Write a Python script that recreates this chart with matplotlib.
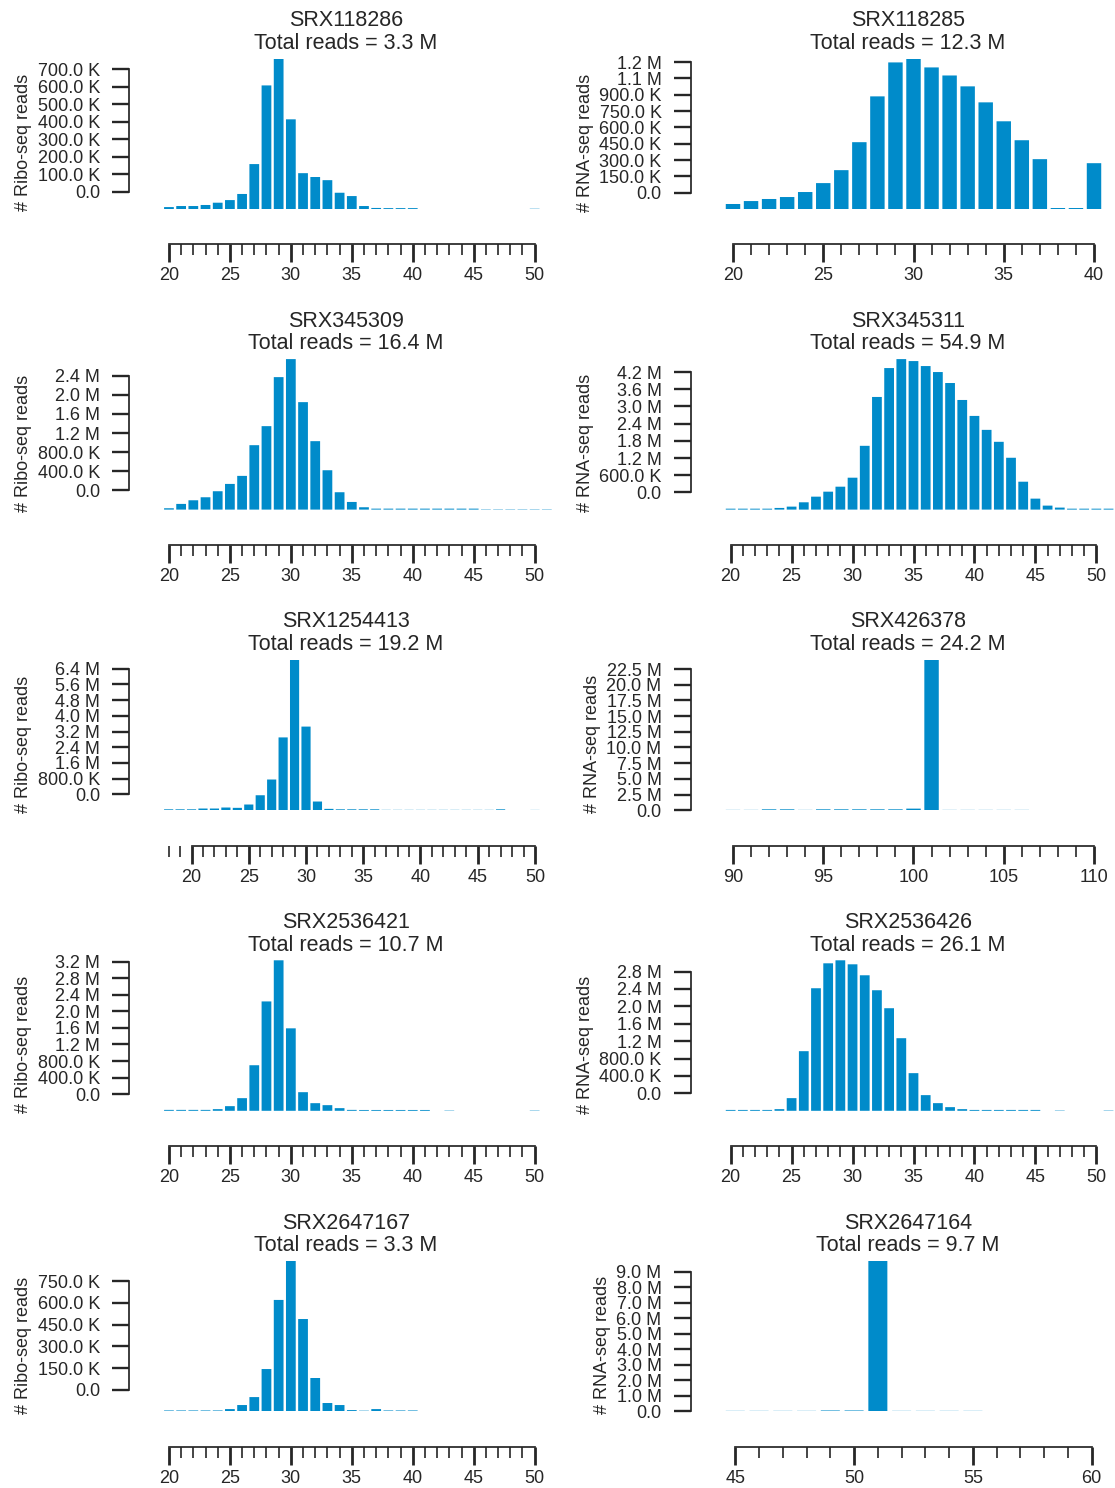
import numpy as np
import matplotlib
matplotlib.use("Agg")
import matplotlib.pyplot as plt
import matplotlib.ticker as ticker

plt.rcParams['font.family'] = ['Liberation Sans', 'DejaVu Sans']

BAR_COLOR = '#008bca'
INK = '#262626'

# one panel per sample, left column Ribo-seq, right column RNA-seq
samples = ['SRX118286', 'SRX118285', 'SRX345309', 'SRX345311', 'SRX1254413',
           'SRX426378', 'SRX2536421', 'SRX2536426', 'SRX2647167', 'SRX2647164']
totals = ['3.3 M', '12.3 M', '16.4 M', '54.9 M', '19.2 M',
          '24.2 M', '10.7 M', '26.1 M', '3.3 M', '9.7 M']
ylabels = ['# Ribo-seq reads', '# RNA-seq reads'] * 5

# first read length of each count list
first_len = [20, 20, 20, 20, 18, 90, 20, 20, 20, 45]
# length range that sets the x limits
len_range = [(20, 50), (20, 40), (20, 50), (20, 50), (18, 50),
             (90, 110), (20, 50), (20, 50), (20, 50), (45, 60)]
# y tick step and whether the tick labels are shifted by one step
ystep = [100e3, 150e3, 400e3, 600e3, 800e3, 2.5e6, 400e3, 400e3, 150e3, 1e6]
yshift = [1, 1, 1, 1, 1, 0, 1, 1, 1, 0]

# read counts in thousands
counts_k = [
    [11, 17, 17, 23, 36, 51, 86, 257, 707, 861, 513, 205, 183, 165, 93, 74, 17, 6, 5, 5, 5,
     0, 0, 0, 0, 0, 0, 0, 0, 0, 1.5],
    [46, 73, 92, 110, 156, 238, 357, 614, 1035, 1347, 1383, 1301, 1227, 1127, 980, 806, 632,
     458, 9, 9, 421],
    [28, 119, 195, 258, 384, 537, 705, 1347, 1745, 2770, 3147, 2247, 1431, 823, 363, 160, 49,
     20, 20, 20, 20, 20, 20, 20, 20, 20, 7, 7, 7, 7, 7, 7],
    [32, 32, 32, 32, 58, 104, 255, 452, 626, 800, 1114, 2227, 3933, 4942, 5255, 5186, 5012,
     4803, 4420, 3828, 3271, 2784, 2367, 1810, 974, 383, 139, 70, 32, 32, 32, 32],
    [45, 45, 45, 85, 85, 136, 120, 289, 760, 1560, 3700, 7650, 4250, 441, 68, 45, 45, 45, 45,
     18, 18, 18, 18, 18, 18, 18, 18, 18, 18, 45, 0, 0, 15],
    [50, 50, 140, 140, 50, 140, 140, 140, 140, 140, 250, 24000, 50, 50, 50, 50, 50, 0, 0, 0, 0],
    [22, 22, 22, 22, 40, 112, 305, 1099, 2638, 3630, 1989, 449, 184, 136, 64, 22, 20, 20, 20,
     20, 20, 20, 0, 8, 0, 0, 0, 0, 0, 0, 8],
    [20, 20, 20, 20, 38, 291, 1370, 2816, 3389, 3458, 3366, 3114, 2770, 2357, 1668, 865, 360,
     176, 84, 38, 20, 20, 20, 20, 20, 20, 0, 8, 0, 0, 0, 8],
    [6.5, 6.5, 6.5, 6.5, 6.5, 16, 44, 99, 293, 771, 1041, 639, 231, 58, 44, 9, 5, 16, 6.5, 6.5,
     6.5, 2.5, 2.5, 2.5, 0, 0, 0, 0, 0, 0, 2.5],
    [35, 35, 35, 35, 60, 60, 9700, 35, 35, 35, 35, 0, 0, 0, 0, 0],
]


def fmt_reads(v):
    if abs(v) >= 1e6:
        return '%.1f M' % (v / 1e6)
    if abs(v) >= 1e3:
        return '%.1f K' % (v / 1e3)
    return '%.1f' % v


W, H = 1115, 1488
fig = plt.figure(figsize=(W / 100, H / 100), dpi=100)

col_left = [145.3, 707.0]
ax_w = 413.0
ax_h = 150.5

for i, name in enumerate(samples):
    row, col = divmod(i, 2)
    base = 209.0 + 300.6 * row
    ax = fig.add_axes((col_left[col] / W, (H - base) / H, ax_w / W, ax_h / H))
    ax.patch.set_visible(False)

    lengths = np.arange(first_len[i], first_len[i] + len(counts_k[i]))
    counts = np.array(counts_k[i]) * 1e3
    ax.bar(lengths, counts, width=0.8, color=BAR_COLOR, linewidth=0, snap=False)

    lo, hi = len_range[i]
    pad = 0.05 * (hi - lo + 0.8)
    ax.set_xlim(lo - 0.4 - pad, hi + 0.4 + pad)
    ymax = counts.max()
    ax.set_ylim(0, ymax)

    # x axis: majors every 5, minors on every length, spine trimmed to majors
    majors = [t for t in range(lo - 5, hi + 6) if t % 5 == 0 and lo - 0.4 - pad <= t <= hi + 0.4 + pad]
    ax.set_xticks(majors)
    ax.set_xticks([t for t in range(first_len[i], majors[-1] + 1) if t % 5 != 0], minor=True)
    ax.spines['bottom'].set_position(('outward', 25.5))
    ax.spines['bottom'].set_bounds(majors[0], majors[-1])

    # y axis
    step = ystep[i]
    shift = yshift[i] * step
    yt = np.arange(shift, ymax + 1, step)
    ax.set_yticks(yt)
    ax.yaxis.set_major_formatter(ticker.FuncFormatter(lambda v, p, s=shift: fmt_reads(v - s)))
    ax.spines['left'].set_position(('outward', 11.5))
    ax.spines['left'].set_bounds(yt[0], yt[-1])

    for side in ('top', 'right'):
        ax.spines[side].set_visible(False)
    for side in ('left', 'bottom'):
        ax.spines[side].set_linewidth(1.25)
        ax.spines[side].set_color(INK)

    ax.tick_params(axis='x', which='major', length=13, width=2.0, color=INK,
                   labelsize=13, labelcolor=INK, pad=3.5)
    ax.tick_params(axis='x', which='minor', length=7.7, width=1.2, color=INK)
    ax.tick_params(axis='y', which='major', length=12.2, width=1.7, color=INK,
                   labelsize=13, labelcolor=INK, pad=9)

    ax.set_ylabel(ylabels[i], fontsize=13, color=INK, labelpad=4)
    ax.yaxis.label.set_y(0.44)
    ax.set_title('%s\nTotal reads = %s' % (name, totals[i]), fontsize=15.5, color=INK,
                 pad=7, linespacing=1.1, x=0.486)

fig.savefig('out.png', dpi=100)
